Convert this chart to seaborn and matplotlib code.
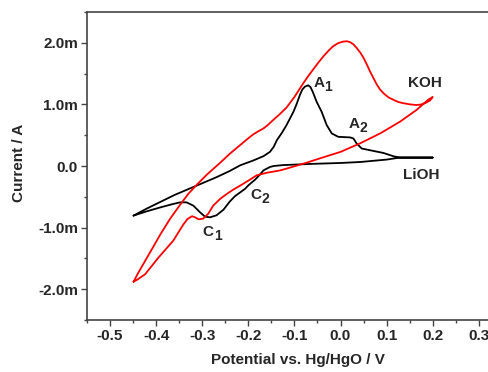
import numpy as np
import pandas as pd
import matplotlib
matplotlib.use("Agg")
import matplotlib.pyplot as plt
import seaborn as sns
from matplotlib.ticker import MultipleLocator

# ---- data (potential in V, current in mA) ----
koh_v_anodic = [-0.449, -0.440, -0.430, -0.410, -0.390, -0.370, -0.350, -0.330, -0.310, -0.290,
                -0.260, -0.240, -0.218, -0.200, -0.189, -0.178, -0.167, -0.157, -0.146, -0.132,
                -0.117, -0.100, -0.081, -0.070, -0.059, -0.048, -0.037, -0.025, -0.016, -0.005,
                0.006, 0.014, 0.021, 0.028, 0.035, 0.043, 0.050, 0.057, 0.064, 0.072,
                0.079, 0.086, 0.093, 0.104, 0.115, 0.125, 0.136, 0.151, 0.165, 0.176,
                0.185, 0.194, 0.200]
koh_i_anodic = [-1.879, -1.75, -1.62, -1.36, -1.10, -0.86, -0.65, -0.45, -0.29, -0.14,
                0.06, 0.20, 0.338, 0.45, 0.515, 0.565, 0.61, 0.67, 0.747, 0.84,
                0.95, 1.12, 1.34, 1.46, 1.57, 1.68, 1.781, 1.88, 1.944, 1.995,
                2.02, 2.025, 2.01, 1.975, 1.918, 1.84, 1.755, 1.65, 1.536, 1.42,
                1.319, 1.24, 1.183, 1.115, 1.074, 1.04, 1.02, 1.0, 0.99, 1.0,
                1.025, 1.062, 1.12]
koh_v_cathodic = [0.200, 0.190, 0.165, 0.129, 0.086, 0.042, 0.000, -0.040, -0.073, -0.100,
                  -0.130, -0.160, -0.182, -0.196, -0.218, -0.233, -0.247, -0.261, -0.276, -0.287,
                  -0.298, -0.308, -0.315, -0.322, -0.332, -0.341, -0.363, -0.395, -0.424, -0.440,
                  -0.449]
koh_i_cathodic = [1.12, 1.074, 0.910, 0.719, 0.529, 0.366, 0.229, 0.135, 0.055, -0.005,
                  -0.07, -0.11, -0.152, -0.22, -0.32, -0.385, -0.455, -0.533, -0.642, -0.775,
                  -0.855, -0.865, -0.835, -0.815, -0.86, -0.95, -1.214, -1.487, -1.758, -1.84,
                  -1.879]

lioh_v_anodic = [-0.449, -0.420, -0.390, -0.360, -0.330, -0.300, -0.270, -0.240, -0.218, -0.189,
                 -0.167, -0.153, -0.145, -0.138, -0.127, -0.117, -0.102, -0.095, -0.088, -0.083,
                 -0.077, -0.070, -0.065, -0.060, -0.052, -0.041, -0.030, -0.019, -0.005, 0.021,
                 0.028, 0.035, 0.046, 0.071, 0.093, 0.115, 0.129, 0.200]
lioh_i_anodic = [-0.805, -0.69, -0.58, -0.47, -0.375, -0.28, -0.185, -0.08, 0.01, 0.09,
                 0.16, 0.23, 0.31, 0.42, 0.54, 0.665, 0.882, 1.01, 1.155, 1.24,
                 1.29, 1.31, 1.28, 1.20, 1.046, 0.882, 0.665, 0.529, 0.474, 0.464,
                 0.447, 0.366, 0.284, 0.245, 0.212, 0.158, 0.137, 0.137]
lioh_v_cathodic = [0.200, 0.129, 0.100, 0.043, 0.000, -0.060, -0.124, -0.145, -0.153, -0.167,
                   -0.175, -0.185, -0.193, -0.200, -0.207, -0.218, -0.229, -0.240, -0.254, -0.269,
                   -0.283, -0.294, -0.305, -0.319, -0.334, -0.348, -0.365, -0.390, -0.420, -0.449]
lioh_i_cathodic = [0.137, 0.137, 0.104, 0.065, 0.049, 0.035, 0.015, 0.0, -0.016, -0.07,
                   -0.14, -0.22, -0.27, -0.315, -0.37, -0.43, -0.49, -0.575, -0.71, -0.80,
                   -0.833, -0.822, -0.75, -0.645, -0.59, -0.59, -0.62, -0.67, -0.735, -0.805]

y_ticks = [-2.0, -1.0, 0.0, 1.0, 2.0]
y_tick_labels = ["-2.0m", "-1.0m", "0.0", "1.0m", "2.0m"]
x_ticks = [-0.5, -0.4, -0.3, -0.2, -0.1, 0.0, 0.1, 0.2, 0.3]
x_tick_labels = ["-0.5", "-0.4", "-0.3", "-0.2", "-0.1", "0.0", "0.1", "0.2", "0.3"]

# ---- style ----
sns.set_style("ticks")
plt.rcParams["font.family"] = ["Liberation Sans", "DejaVu Sans"]
plt.rcParams["font.weight"] = "bold"

fig = plt.figure(figsize=(4.89, 3.72), dpi=100)
ax = fig.add_axes([87 / 489, 1 - 320 / 372, (492.6 - 87) / 489, 308 / 372])

def curve(v1, i1, v2, i2):
    return pd.DataFrame({"V": list(v1) + list(v2), "I": list(i1) + list(i2)})

koh = curve(koh_v_anodic, koh_i_anodic, koh_v_cathodic, koh_i_cathodic)
lioh = curve(lioh_v_anodic, lioh_i_anodic, lioh_v_cathodic, lioh_i_cathodic)

sns.lineplot(data=lioh, x="V", y="I", sort=False, estimator=None, color="black",
             lw=1.3, ax=ax, solid_joinstyle="round", solid_capstyle="round")
sns.lineplot(data=koh, x="V", y="I", sort=False, estimator=None, color="#ff0000",
             lw=1.3, ax=ax, solid_joinstyle="round", solid_capstyle="round")

ax.set_xlim(-0.55, 0.33)
ax.set_ylim(-2.5, 2.5)
ax.set_xticks(x_ticks)
ax.set_xticklabels(x_tick_labels)
ax.set_yticks(y_ticks)
ax.set_yticklabels(y_tick_labels)
ax.xaxis.set_minor_locator(MultipleLocator(0.05))
ax.yaxis.set_minor_locator(MultipleLocator(0.5))

spine_c = "#444444"
for s in ["left", "bottom", "top"]:
    ax.spines[s].set_color(spine_c)
    ax.spines[s].set_linewidth(1.2)
ax.spines["right"].set_visible(False)
ax.tick_params(which="major", direction="out", length=4.5, width=1.0, color=spine_c,
               labelsize=11, pad=2)
ax.tick_params(which="minor", direction="out", length=2.5, width=1.0, color=spine_c)
ax.tick_params(top=False, right=False, which="both")
for lab in ax.get_xticklabels() + ax.get_yticklabels():
    lab.set_fontweight("bold")

ax.set_xlabel("Potential vs. Hg/HgO / V", fontsize=11, fontweight="bold")
ax.set_ylabel("Current / A", fontsize=11, fontweight="bold")
ax.xaxis.set_label_coords(0.52, -0.108)
ax.yaxis.set_label_coords(-0.15, 0.51)

def peak_label(x, y, letter, sub):
    ax.text(x, y, letter, fontsize=11, fontweight="bold", ha="left", va="baseline")
    ax.annotate(sub, xy=(x, y), xytext=(7.9, -3.0), textcoords="offset points",
                fontsize=10, fontweight="bold", ha="left", va="baseline")

peak_label(-0.059, 1.28, "A", "1")
peak_label(0.017, 0.615, "A", "2")
peak_label(-0.299, -1.13, "C", "1")
peak_label(-0.196, -0.533, "C", "2")
tk = dict(fontsize=11, fontweight="bold", ha="left", va="baseline")
ax.text(0.147, 1.29, "KOH", **tk)
ax.text(0.136, -0.206, "LiOH", **tk)

fig.savefig("out.png", dpi=100)
